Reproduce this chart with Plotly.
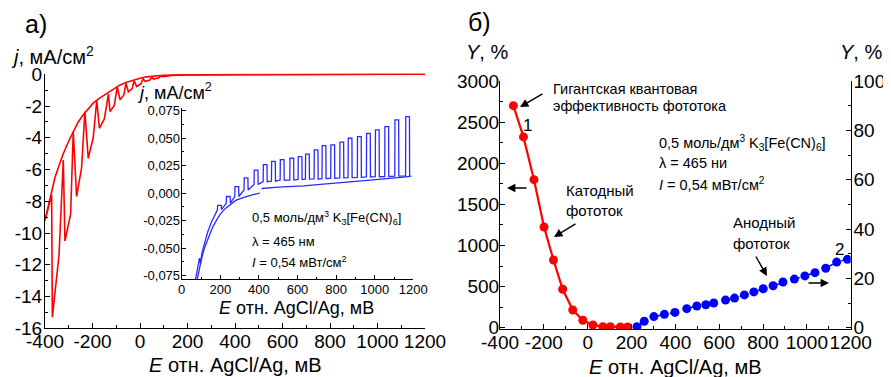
import plotly.graph_objects as go

# ---------------- Panel a) : main LSV curve under chopped light ----------------
# smooth (dark) envelope, E in mV, j in mA/cm2
env_E = [-400, -385, -372, -358, -340, -323, -300, -281, -260, -239, -218, -197, -170, -140,
         -110, -84, -56, -28, 0, 28, 60, 100, 150, 200, 300, 400, 600, 800, 1000, 1200]
env_j = [-9.2, -8.3, -7.5, -6.5, -5.7, -5.0, -4.2, -3.6, -3.0, -2.55, -2.15, -1.82, -1.5, -1.2,
         -0.9, -0.67, -0.5, -0.36, -0.25, -0.16, -0.1, -0.06, -0.04, -0.03, -0.02, -0.01, -0.01, 0.0, 0.0, 0.0]

# chopped-light curve: teeth (dark top -> illuminated minimum -> relaxed point)
chop_start_E = [-400]
chop_start_j = [-9.2]
tooth_top_E = [-372, -323, -281, -232, -182, -133, -96, -59, -25, 13, 50, 88]
tooth_top_j = [-7.6, -5.4, -3.6, -2.35, -1.65, -1.25, -0.8, -0.58, -0.42, -0.28, -0.18, -0.1]
tooth_bot_E = [-369, -316, -267, -218, -171, -126, -84, -49, -14, 21, 57, 95]
tooth_bot_j = [-15.3, -10.5, -7.7, -5.3, -3.4, -2.35, -1.6, -1.1, -0.77, -0.44, -0.3, -0.15]
tooth_rel_E = [-341, -292, -246, -197, -150, -108, -68, -33, 3, 40, 78, 115]
tooth_rel_j = [-11.4, -8.8, -5.9, -4.0, -2.8, -1.95, -1.3, -0.9, -0.62, -0.38, -0.24, -0.12]
chop_tail_E = [130, 200, 400, 700, 1000, 1200]
chop_tail_j = [-0.07, -0.04, -0.02, -0.01, 0.0, 0.0]

# ---------------- inset : anodic region ----------------
in_dark1_E = [76, 90, 105, 120, 140, 160, 181, 200, 225, 250, 280, 310, 337, 370, 405]
in_dark1_j = [-0.082, -0.070, -0.058, -0.0488, -0.040, -0.031, -0.0243, -0.019, -0.014, -0.0107,
              -0.0065, -0.0045, -0.003, -0.0012, 0.0]
in_dark2_E = [414, 500, 630, 803, 976, 1149, 1190]
in_dark2_j = [0.0043, 0.0055, 0.0066, 0.009, 0.012, 0.0146, 0.0155]

in_rise_E = [68, 86, 92, 97, 105, 121, 135, 155, 170, 181]
in_rise_j = [-0.082, -0.065, -0.059, -0.064, -0.054, -0.044, -0.035, -0.026, -0.020, -0.015]
pulse_E = [195, 241, 285, 333, 385, 432, 475, 520, 570, 613, 651, 696, 737, 782, 829, 872,
           920, 967, 1013, 1062, 1114, 1170]
pulse_top = [-0.011, -0.003, 0.006, 0.014, 0.021, 0.026, 0.029, 0.0305, 0.0318, 0.0333, 0.0355,
             0.0394, 0.0433, 0.044, 0.0464, 0.050, 0.0515, 0.0545, 0.0576, 0.0606, 0.0667, 0.0697]
pulse_base = [-0.015, -0.009, -0.003, 0.003, 0.008, 0.0105, 0.011, 0.012, 0.012, 0.0125, 0.0128,
              0.013, 0.0133, 0.0136, 0.014, 0.0142, 0.0145, 0.0148, 0.015, 0.0152, 0.0155, 0.0158]
pulse_halfwidth = 10
in_end_E = [1182]
in_end_j = [0.0158]

# ---------------- Panel б) : quantum yield ----------------
red_E = [-339, -293, -245, -199, -156, -114, -68, -22, 24, 69, 103, 149, 182]
red_Y = [2700, 2320, 1800, 1225, 823, 467, 215, 90, 33, 12, 12, 8, 8]
blue_E = [225, 258, 302, 350, 398, 452, 498, 539, 575, 629, 670, 715, 758, 801, 846, 891,
          943, 991, 1037, 1086, 1136, 1185]
blue_Y = [0.4, 2.6, 4.5, 5.4, 6.2, 7.7, 8.8, 9.3, 10.0, 11.2, 12.0, 13.3, 14.5, 15.8, 17.0,
          18.5, 19.7, 21.0, 22.3, 24.1, 26.6, 27.7]

# tick labels
E_ticks = [-400, -200, 0, 200, 400, 600, 800, 1000, 1200]
E_ticktext = ["-400", "-200", "0", "200", "400", "600", "800", "1000", "1200"]
j_ticks = [0, -2, -4, -6, -8, -10, -12, -14, -16]
j_ticktext = ["0", "-2", "-4", "-6", "-8", "-10", "-12", "-14", "-16"]
inE_ticks = [0, 200, 400, 600, 800, 1000, 1200]
inE_ticktext = ["0", "200", "400", "600", "800", "1000", "1200"]
inj_ticks = [0.075, 0.05, 0.025, 0.0, -0.025, -0.05, -0.075]
inj_ticktext = ["0,075", "0,050", "0,025", "0,000", "-0,025", "-0,050", "-0,075"]
Yl_ticks = [0, 500, 1000, 1500, 2000, 2500, 3000]
Yl_ticktext = ["0", "500", "1000", "1500", "2000", "2500", "3000"]
Yr_ticks = [0, 20, 40, 60, 80, 100]
Yr_ticktext = ["0", "20", "40", "60", "80", "100"]

# ---------------- build polylines from the read values ----------------
chop_E = list(chop_start_E)
chop_j = list(chop_start_j)
for i in range(len(tooth_top_E)):
    chop_E += [tooth_top_E[i], tooth_bot_E[i], tooth_rel_E[i]]
    chop_j += [tooth_top_j[i], tooth_bot_j[i], tooth_rel_j[i]]
chop_E += chop_tail_E
chop_j += chop_tail_j

inc_E = list(in_rise_E)
inc_j = list(in_rise_j)
for c, t, b in zip(pulse_E, pulse_top, pulse_base):
    inc_E += [c - pulse_halfwidth, c - pulse_halfwidth + 1, c + pulse_halfwidth, c + pulse_halfwidth + 1]
    inc_j += [b, t, t, b]
inc_E += in_end_E
inc_j += in_end_j

# page body has an 8px margin: figure is drawn offset by (8, 8) in the window
OX, OY = 8, 8
W, H = 891 - OX, 377 - OY
def px(x):
    return (x - OX) / W
def py(y):
    return 1 - (y - OY) / H

FONT = "Liberation Sans, Arial, sans-serif"
RED = "#ff0000"
BLUE = "#0000ff"
IBLUE = "#2a2aff"

fig = go.Figure()
fig.add_trace(go.Scatter(x=env_E, y=env_j, mode="lines", line=dict(color=RED, width=1.6),
                         xaxis="x", yaxis="y", hoverinfo="skip"))
fig.add_trace(go.Scatter(x=chop_E, y=chop_j, mode="lines", line=dict(color=RED, width=1.6),
                         xaxis="x", yaxis="y", hoverinfo="skip"))
fig.add_trace(go.Scatter(x=in_dark1_E, y=in_dark1_j, mode="lines", line=dict(color=IBLUE, width=1.3),
                         xaxis="x2", yaxis="y2"))
fig.add_trace(go.Scatter(x=in_dark2_E, y=in_dark2_j, mode="lines", line=dict(color=IBLUE, width=1.3),
                         xaxis="x2", yaxis="y2"))
fig.add_trace(go.Scatter(x=inc_E, y=inc_j, mode="lines", line=dict(color=IBLUE, width=1.3),
                         xaxis="x2", yaxis="y2"))
fig.add_trace(go.Scatter(x=red_E, y=red_Y, mode="lines+markers", line=dict(color=RED, width=2.2),
                         marker=dict(color=RED, size=9), xaxis="x3", yaxis="y3"))
fig.add_trace(go.Scatter(x=blue_E, y=blue_Y, mode="lines+markers",
                         line=dict(color=BLUE, width=1.5, dash="dash"),
                         marker=dict(color=BLUE, size=9), xaxis="x3", yaxis="y4"))

def axis(**kw):
    base = dict(showline=True, linecolor="black", linewidth=1, ticks="inside", ticklen=5,
                tickcolor="black", showgrid=False, zeroline=False, mirror=False,
                tickmode="array", fixedrange=True, automargin=False, tickangle=0)
    base.update(kw)
    return base

tf_main = dict(family=FONT, size=19, color="black")
tf_in = dict(family=FONT, size=13, color="black")

fig.update_layout(
    width=W, height=H, margin=dict(l=0, r=0, t=0, b=0, autoexpand=False),
    paper_bgcolor="white", plot_bgcolor="rgba(0,0,0,0)", showlegend=False,
    font=dict(family=FONT, color="black"),
    xaxis=axis(domain=[px(45), px(425)], range=[-400, 1200], anchor="y",
               tickvals=E_ticks, ticktext=E_ticktext, tickfont=tf_main, ticklabelstandoff=-4,
               minor=dict(ticks="inside", ticklen=3, dtick=100, tick0=0, tickcolor="black")),
    yaxis=axis(domain=[py(328.3), py(73.5)], range=[-16, 0.05], anchor="x",
               tickvals=j_ticks, ticktext=j_ticktext, tickfont=tf_main, ticklabelstandoff=-2,
               minor=dict(ticks="inside", ticklen=3, dtick=1, tick0=0, tickcolor="black")),
    xaxis2=axis(domain=[px(181.7), px(413.3)], range=[0, 1200], anchor="y2",
                tickvals=inE_ticks, ticktext=inE_ticktext, tickfont=tf_in, ticklen=4,
                ticklabelstandoff=-2,
                minor=dict(ticks="inside", ticklen=2, dtick=100, tick0=0, tickcolor="black")),
    yaxis2=axis(domain=[py(279), py(108)], range=[-0.078, 0.0775], anchor="x2",
                tickvals=inj_ticks, ticktext=inj_ticktext, tickfont=tf_in, ticklen=4,
                ticklabelstandoff=-2,
                minor=dict(ticks="inside", ticklen=2, dtick=0.0125, tick0=0, tickcolor="black")),
    xaxis3=axis(domain=[px(500), px(850.7)], range=[-400, 1200], anchor="y3",
                tickvals=E_ticks, ticktext=E_ticktext, tickfont=tf_main, ticklabelstandoff=-4,
                minor=dict(ticks="inside", ticklen=3, dtick=100, tick0=0, tickcolor="black")),
    yaxis3=axis(domain=[py(329), py(81)], range=[-16, 3000], anchor="x3",
                tickvals=Yl_ticks, ticktext=Yl_ticktext, tickfont=tf_main, ticklabelstandoff=-4,
                minor=dict(ticks="inside", ticklen=3, dtick=250, tick0=0, tickcolor="black")),
    yaxis4=axis(domain=[py(329), py(81)], range=[-16 / 30, 100], anchor="x3", overlaying="y3",
                side="right", tickvals=Yr_ticks, ticktext=Yr_ticktext, tickfont=tf_main,
                ticklabelstandoff=-2,
                minor=dict(ticks="inside", ticklen=3, dtick=10, tick0=0, tickcolor="black")),
)

def txt(x, y, text, size=14, xanchor="left", yanchor="middle"):
    fig.add_annotation(x=px(x), y=py(y), xref="paper", yref="paper", text=text, showarrow=False,
                       xanchor=xanchor, yanchor=yanchor, font=dict(family=FONT, size=size, color="black"))

def arrow(x_head, y_head, x_tail, y_tail):
    fig.add_annotation(x=px(x_head), y=py(y_head), xref="paper", yref="paper", text="",
                       showarrow=True, ax=x_tail - x_head, ay=y_tail - y_head,
                       arrowhead=2, arrowsize=1.2, arrowwidth=1.4, arrowcolor="black")

# panel a texts
txt(23, 24, "а)", size=25)
txt(9, 55, "<i>j</i>, мА/см<sup>2</sup>", size=20)
txt(235, 365, "<i>E</i> отн. AgCl/Ag, мВ", size=20, xanchor="center")
txt(135, 91, "<i>j</i>, мА/см<sup>2</sup>", size=18)
txt(296, 308, "<i>E</i> отн. AgCl/Ag, мВ", size=18, xanchor="center")
txt(250, 218, "0,5 моль/дм<sup>3</sup> K<sub>3</sub>[Fe(CN)<sub>6</sub>]", size=13)
txt(250, 241, "λ = 465 нм", size=13)
txt(250, 262, "<i>I</i> = 0,54 мВт/см<sup>2</sup>", size=13)

# panel б texts
txt(466, 22, "б)", size=25)
txt(464, 52, "<i>Y</i>, %", size=20)
txt(838, 52, "<i>Y</i>, %", size=20)
txt(675, 367, "<i>E</i> отн. AgCl/Ag, мВ", size=20, xanchor="center")
txt(551, 89, "Гигантская квантовая", size=14.5)
txt(551, 106, "эффективность фототока", size=14.5)
txt(527, 125, "1", size=17, xanchor="center")
txt(657, 143, "0,5 моль/дм<sup>3</sup> K<sub>3</sub>[Fe(CN)<sub>6</sub>]", size=14.5)
txt(657, 163, "λ = 465 ни", size=14.5)
txt(657, 184, "<i>I</i> = 0,54 мВт/см<sup>2</sup>", size=14.5)
txt(564, 190, "Катодный", size=15)
txt(564, 210, "фототок", size=15)
txt(731, 223, "Анодный", size=15)
txt(731, 243, "фототок", size=15)
txt(839, 249, "2", size=17, xanchor="center")

arrow(520, 107, 544, 93)
arrow(507, 188, 528, 188)
arrow(554, 237, 577, 223)
arrow(767, 276, 755, 255)
arrow(829, 283, 807, 283)

fig.write_html("out.html")
